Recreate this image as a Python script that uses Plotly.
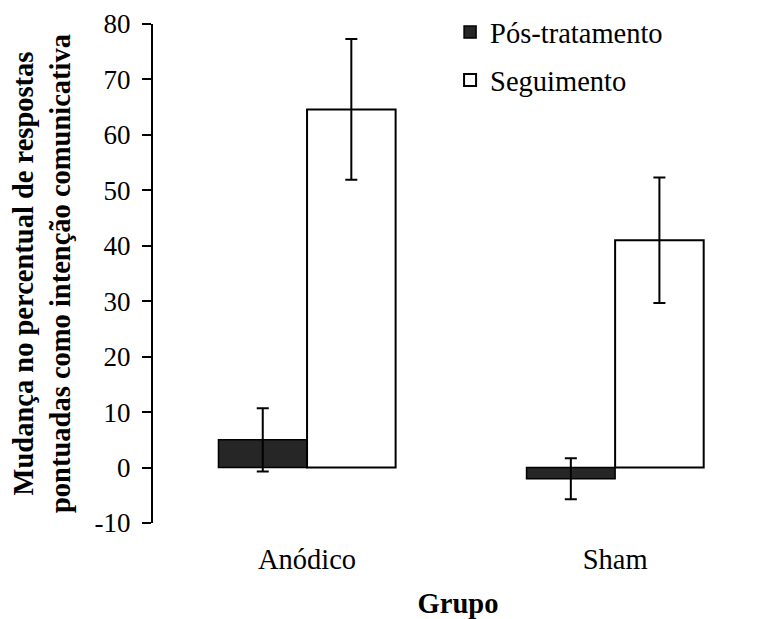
import plotly.graph_objects as go

categories = ["Anódico", "Sham"]
pos_values = [5.0, -2.0]
pos_errors = [5.7, 3.7]
seg_values = [64.6, 41.0]
seg_errors = [12.7, 11.3]
y_ticks = [-10, 0, 10, 20, 30, 40, 50, 60, 70, 80]
y_tick_labels = ["-10", "0", "10", "20", "30", "40", "50", "60", "70", "80"]
y_range = [-10, 80]

FONT = "Liberation Serif"

fig = go.Figure()
fig.add_trace(go.Bar(
    name="Pós-tratamento", x=categories, y=pos_values,
    marker=dict(color="#262626", line=dict(color="black", width=1.5)),
    error_y=dict(type="data", array=pos_errors, color="black", thickness=2, width=6),
    legendgroup="a",
))
fig.add_trace(go.Bar(
    name="Seguimento", x=categories, y=seg_values,
    marker=dict(color="white", line=dict(color="black", width=2)),
    error_y=dict(type="data", array=seg_errors, color="black", thickness=2, width=6),
    legendgroup="b",
))

x_range = [-0.5, 1.48]
zero_pos = (0 - y_range[0]) / (y_range[1] - y_range[0])

fig.update_layout(
    width=755, height=611,
    margin=dict(l=145, r=0, t=16, b=96, autoexpand=False),
    paper_bgcolor="white", plot_bgcolor="white",
    font=dict(family=FONT, color="black", size=28),
    barmode="group", bargap=0.425, bargroupgap=0,
    showlegend=True,
    legend=dict(
        x=0.487, y=1.034, xanchor="left", yanchor="top",
        font=dict(family=FONT, size=28.5, color="black"),
        bgcolor="rgba(0,0,0,0)", traceorder="grouped", tracegroupgap=8,
    ),
    xaxis=dict(
        range=x_range, showline=False, ticks="", showgrid=False, zeroline=False,
        automargin=False, ticklabelstandoff=16,
        tickfont=dict(family=FONT, size=28.5),
        title=dict(text="<b>Grupo</b>", font=dict(family=FONT, size=28.5), standoff=23),
    ),
    xaxis2=dict(
        overlaying="x", anchor="free", position=zero_pos, type="linear",
        range=x_range, tickmode="array", tickvals=[0.5], ticks="outside",
        ticklen=9, tickwidth=2, tickcolor="black", showticklabels=False,
        showline=True, linewidth=2, linecolor="black", showgrid=False, zeroline=False,
        automargin=False,
    ),
    yaxis=dict(
        range=y_range, tickmode="array", tickvals=y_ticks, ticktext=y_tick_labels,
        ticks="outside", ticklen=9, tickwidth=2, tickcolor="black",
        showline=True, linewidth=2, linecolor="black", showgrid=False, zeroline=False,
        automargin=False,
        tickfont=dict(family=FONT, size=27), ticklabelstandoff=6,
        title=dict(
            text="<b>Mudança no percentual de respostas<br>pontuadas como intenção comunicativa</b>",
            font=dict(family=FONT, size=28.5), standoff=18,
        ),
    ),
)

fig.write_html("out.html")
